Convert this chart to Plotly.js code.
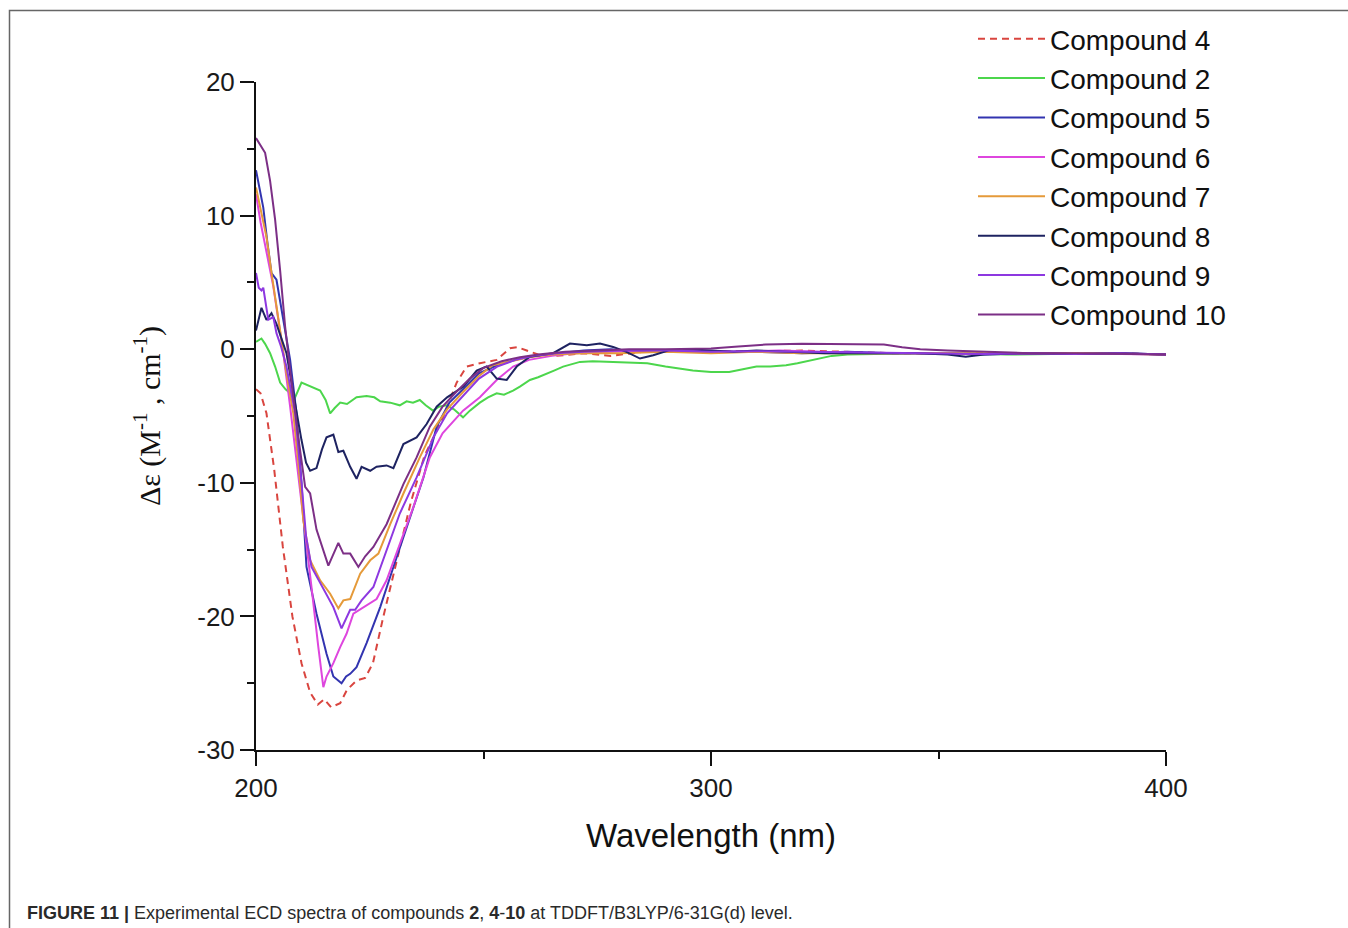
<!DOCTYPE html>
<html>
<head>
<meta charset="utf-8">
<script src="https://cdn.plot.ly/plotly-3.0.1.min.js"></script>
<style>
  html, body { margin: 0; padding: 0; background: #ffffff; overflow: hidden; }
  #chart { width: 1348px; height: 928px; }
</style>
</head>
<body>
<div id="chart"></div>
<script>
// ---- Data (wavelength in nm, Δε in M^-1 cm^-1) ----
const seriesNames = ["Compound 4", "Compound 2", "Compound 5", "Compound 6",
                     "Compound 7", "Compound 8", "Compound 9", "Compound 10"];

const wl4 = [200, 201, 202.3, 204, 205.9, 208, 210, 211.9, 213.6, 215, 216.5, 218.5, 220, 222.1, 224, 225.7, 228, 230.9, 234, 237, 241.1, 244.1, 246.3, 249.2, 252.9, 255.8, 257.5, 259.5, 262, 266, 272, 278, 285, 292, 300, 310, 320, 330, 340, 350, 360, 370, 380, 390, 400];
const de4 = [-3.0, -3.3, -4.8, -9.0, -14.8, -20.0, -23.5, -25.7, -26.6, -26.2, -26.8, -26.5, -25.5, -24.8, -24.6, -23.5, -20.0, -15.8, -11.5, -8.0, -5.1, -2.5, -1.3, -1.05, -0.8, 0.07, 0.15, -0.1, -0.4, -0.5, -0.3, -0.5, -0.2, -0.2, -0.2, -0.15, -0.1, -0.2, -0.3, -0.3, -0.3, -0.35, -0.35, -0.3, -0.4];

const wl2 = [200, 201.2, 202, 203.1, 204.2, 205.3, 206.5, 208.6, 210, 211.5, 213, 214.1, 215.3, 216.3, 217.3, 218.5, 220, 222.1, 224.3, 226, 227.3, 229.5, 231.6, 233.1, 234.5, 236, 237.3, 238.9, 240.2, 241.9, 243.5, 245.5, 247, 249.2, 251, 252.9, 254.5, 256.5, 258, 260.2, 262, 263.9, 265.5, 267.5, 269.5, 271.2, 274, 278.5, 282, 286, 290, 292, 296, 300, 304, 307, 310, 313, 316.5, 319, 321, 324, 326.5, 330, 335, 345, 355, 365, 375, 385, 395, 400];
const de2 = [0.55, 0.8, 0.4, -0.3, -1.3, -2.5, -3.0, -3.6, -2.5, -2.7, -2.9, -3.1, -3.8, -4.8, -4.4, -4.0, -4.1, -3.6, -3.5, -3.6, -3.9, -4.0, -4.2, -3.9, -4.0, -3.8, -4.2, -4.6, -4.3, -4.2, -4.5, -5.1, -4.6, -4.0, -3.6, -3.3, -3.4, -3.1, -2.8, -2.3, -2.1, -1.8, -1.6, -1.3, -1.1, -0.95, -0.9, -0.95, -1.0, -1.05, -1.3, -1.4, -1.6, -1.7, -1.7, -1.5, -1.3, -1.3, -1.2, -1.05, -0.9, -0.7, -0.5, -0.4, -0.35, -0.3, -0.3, -0.4, -0.35, -0.3, -0.35, -0.4];

const wl5 = [200, 201, 201.6, 202.5, 203.1, 203.4, 204.5, 205.2, 206, 207.5, 208.9, 210, 211.1, 213.3, 215.5, 217, 218.8, 219.8, 220.7, 222.1, 224.3, 227.3, 230.2, 233.1, 236.8, 239.7, 242.5, 245.5, 249, 253, 257, 261, 266, 272, 278, 284, 290, 300, 310, 320, 330, 340, 350, 360, 370, 380, 390, 400];
const de5 = [13.4, 11.5, 10.6, 8.0, 6.2, 5.7, 5.2, 3.8, 2.2, -0.8, -4.8, -10.0, -16.3, -19.8, -22.8, -24.5, -25.0, -24.5, -24.3, -23.8, -22.0, -19.3, -16.3, -13.3, -9.6, -5.8, -4.0, -3.0, -1.8, -1.2, -0.8, -0.5, -0.3, -0.1, 0.0, -0.2, -0.1, -0.2, -0.2, -0.3, -0.2, -0.3, -0.3, -0.4, -0.3, -0.35, -0.3, -0.4];

const wl6 = [200, 201, 202, 203.8, 205, 206, 207.5, 209, 210.4, 212.2, 213.7, 214.8, 215.5, 217, 218.5, 219.9, 221.4, 223.6, 226.5, 228.7, 230.9, 234.6, 238.2, 241, 245.5, 249.2, 252.9, 256.5, 260, 265, 270, 278, 285, 295, 305, 315, 325, 335, 345, 360, 375, 390, 400];
const de6 = [11.6, 9.5, 7.8, 4.7, 2.0, -0.3, -4.3, -8.5, -12.3, -17.8, -22.3, -25.3, -24.5, -23.5, -22.3, -21.3, -19.8, -19.3, -18.7, -17.3, -15.3, -11.8, -8.1, -6.3, -4.6, -3.6, -2.3, -1.3, -0.8, -0.5, -0.3, -0.2, -0.1, -0.1, -0.2, -0.1, -0.2, -0.3, -0.3, -0.35, -0.3, -0.35, -0.4];

const wl7 = [200, 201, 202.3, 203.5, 204.5, 205.6, 206.7, 208.2, 209.3, 210.4, 211.9, 214.1, 216.3, 218.1, 219.2, 220.7, 222.1, 222.9, 225.1, 226.9, 229.5, 232.4, 236, 239, 242, 245.5, 249, 252, 256, 260, 265, 272, 280, 290, 300, 310, 320, 335, 350, 370, 385, 400];
const de7 = [12.1, 10.5, 8.4, 5.5, 3.2, 0.8, -1.8, -4.8, -8.5, -12.8, -15.8, -17.3, -18.3, -19.4, -18.8, -18.7, -17.5, -16.8, -15.8, -15.3, -13.1, -10.8, -8.1, -6.0, -4.5, -3.2, -2.0, -1.2, -0.9, -0.6, -0.4, -0.3, -0.3, -0.2, -0.3, -0.2, -0.3, -0.3, -0.3, -0.35, -0.3, -0.4];

const wl8 = [200, 201.2, 202.3, 203.4, 204.5, 205.6, 206.7, 207.8, 208.9, 210, 211, 211.9, 213.3, 214.5, 215.5, 217, 218.1, 219.2, 220.7, 222.1, 223.2, 225.1, 226.5, 228.7, 230.2, 231.3, 232.4, 235.3, 237.5, 239.7, 242, 245.6, 248.5, 250.7, 252.9, 255.1, 257.3, 260.2, 265.3, 269, 272.7, 275.6, 278.5, 281.4, 284.4, 287.3, 290.9, 295, 300, 305, 310, 318, 325, 335, 345, 352, 356, 360, 370, 380, 390, 400];
const de8 = [1.4, 3.1, 2.2, 2.7, 1.9, 0.8, -0.3, -2.5, -4.8, -6.8, -8.5, -9.1, -8.9, -7.5, -6.6, -6.4, -7.7, -7.6, -8.8, -9.7, -8.8, -9.1, -8.8, -8.7, -8.9, -8.0, -7.1, -6.6, -5.6, -4.3, -3.6, -2.8, -1.6, -1.3, -2.2, -2.3, -1.3, -0.57, -0.3, 0.42, 0.3, 0.42, 0.17, -0.2, -0.7, -0.45, -0.07, 0.0, -0.1, -0.2, -0.1, -0.2, -0.3, -0.3, -0.3, -0.4, -0.57, -0.4, -0.3, -0.35, -0.3, -0.4];

const wl9 = [200, 200.6, 201.2, 201.6, 202.7, 203.8, 204.5, 205.5, 206.7, 208.6, 210, 211, 212.2, 213.3, 215.5, 217, 218.8, 220.7, 221.8, 223.2, 225.8, 228.7, 231.6, 235.3, 239, 242, 245.5, 249, 253, 257, 261, 266, 272, 280, 290, 300, 310, 320, 330, 340, 350, 360, 370, 380, 390, 400];
const de9 = [5.7, 4.6, 4.4, 4.6, 2.2, 2.4, 1.2, 0.2, -1.3, -4.8, -10.0, -14.0, -16.3, -17.0, -18.3, -19.3, -20.9, -19.5, -19.5, -18.8, -17.8, -15.0, -12.3, -9.6, -6.6, -4.8, -3.5, -2.2, -1.3, -0.8, -0.5, -0.3, -0.2, -0.1, -0.1, -0.2, -0.15, -0.2, -0.2, -0.3, -0.3, -0.35, -0.3, -0.35, -0.3, -0.4];

const wl10 = [200, 202, 203.1, 204.2, 205.3, 206.4, 207.5, 208.6, 209.3, 210.8, 211.9, 213.3, 215.9, 218.1, 219.2, 220.7, 222.5, 224, 225.8, 228.7, 232.4, 235.3, 238.2, 241, 244, 247, 250, 254, 258, 262, 268, 275, 282, 290, 300, 306, 312, 320, 330, 338, 342, 346, 352, 360, 370, 380, 390, 400];
const de10 = [15.8, 14.7, 12.6, 9.7, 5.9, 1.7, -1.6, -4.8, -6.6, -10.3, -10.8, -13.5, -16.2, -14.5, -15.3, -15.3, -16.3, -15.5, -14.8, -13.1, -10.1, -8.1, -5.8, -4.3, -3.2, -2.2, -1.4, -0.9, -0.6, -0.4, -0.2, -0.1, 0.0, 0.0, 0.05, 0.2, 0.35, 0.4, 0.4, 0.35, 0.15, 0.0, -0.1, -0.2, -0.3, -0.3, -0.35, -0.4];

const xTickVals = [200, 300, 400];
const yTickVals = [20, 10, 0, -10, -20, -30];

// ---- Styles ----
const styles = [
  {color: "#d9453f", dash: "7px,5px"},
  {color: "#4cd64c", dash: "solid"},
  {color: "#3234b0", dash: "solid"},
  {color: "#de46de", dash: "solid"},
  {color: "#e59a3a", dash: "solid"},
  {color: "#1e2361", dash: "solid"},
  {color: "#8d38e0", dash: "solid"},
  {color: "#7c2f86", dash: "solid"}
];
const xs = [wl4, wl2, wl5, wl6, wl7, wl8, wl9, wl10];
const ys = [de4, de2, de5, de6, de7, de8, de9, de10];

const traces = seriesNames.map((name, i) => ({
  type: "scatter",
  mode: "lines",
  name: name,
  x: xs[i],
  y: ys[i],
  line: {color: styles[i].color, width: 2, dash: styles[i].dash}
}));

const W = 1348, H = 928;
const L = 256, R = 1166, T = 82, B = 750;
const px2x = p => (p - L) / (R - L);
const px2y = p => (B - p) / (B - T);

const layout = {
  width: W, height: H,
  margin: {l: L, r: W - R, t: T, b: H - B, pad: 0},
  paper_bgcolor: "#ffffff",
  plot_bgcolor: "#ffffff",
  showlegend: true,
  font: {family: "Liberation Sans, Arial, sans-serif", color: "#1a1a1a"},
  xaxis: {
    range: [200, 400],
    tickvals: xTickVals,
    ticktext: xTickVals.map(String),
    ticks: "outside", ticklen: 14, tickwidth: 2, tickcolor: "#111",
    minor: {dtick: 50, tick0: 200, ticks: "outside", ticklen: 7, tickwidth: 2, tickcolor: "#111", showgrid: false},
    showline: true, linewidth: 2, linecolor: "#111",
    showgrid: false, zeroline: false,
    tickfont: {size: 26, family: "Liberation Sans, Arial, sans-serif", color: "#1a1a1a"},
    title: {text: "Wavelength (nm)", font: {size: 33, family: "Liberation Sans, Arial, sans-serif", color: "#111"}, standoff: 22}
  },
  yaxis: {
    range: [-30, 20],
    tickvals: yTickVals,
    ticktext: yTickVals.map(String),
    ticks: "outside", ticklen: 14, tickwidth: 2, tickcolor: "#111",
    minor: {dtick: 5, tick0: 0, ticks: "outside", ticklen: 7, tickwidth: 2, tickcolor: "#111", showgrid: false},
    showline: true, linewidth: 2, linecolor: "#111",
    showgrid: false, zeroline: false,
    tickfont: {size: 26, family: "Liberation Sans, Arial, sans-serif", color: "#1a1a1a"},
    title: {text: "Δε (M<sup>-1</sup> , cm<sup>-1</sup>)", font: {size: 30, family: "Liberation Serif, Times New Roman, serif", color: "#111"}, standoff: 28}
  },
  legend: {
    x: px2x(973), y: px2y(14), xanchor: "left", yanchor: "top",
    bgcolor: "rgba(0,0,0,0)", borderwidth: 0,
    font: {size: 28, family: "Liberation Sans, Arial, sans-serif", color: "#111"},
    itemwidth: 67, tracegroupgap: 0
  },
  shapes: [{
    type: "rect", xref: "paper", yref: "paper",
    x0: px2x(9.5), x1: px2x(1370), y0: px2y(950), y1: px2y(10.5),
    line: {color: "#666666", width: 1.5}, fillcolor: "rgba(0,0,0,0)", layer: "below"
  }],
  annotations: [{
    xref: "paper", yref: "paper",
    x: px2x(25), y: px2y(913), xanchor: "left", yanchor: "middle",
    showarrow: false,
    text: "<b>FIGURE 11 |</b> Experimental ECD spectra of compounds <b>2</b>, <b>4</b>-<b>10</b> at TDDFT/B3LYP/6-31G(d) level.",
    font: {size: 18, family: "Liberation Sans Narrow, Arial Narrow, Liberation Sans, sans-serif", color: "#2a2a2a"}
  }]
};

Plotly.newPlot("chart", traces, layout, {displayModeBar: false, staticPlot: true});
</script>
</body>
</html>
